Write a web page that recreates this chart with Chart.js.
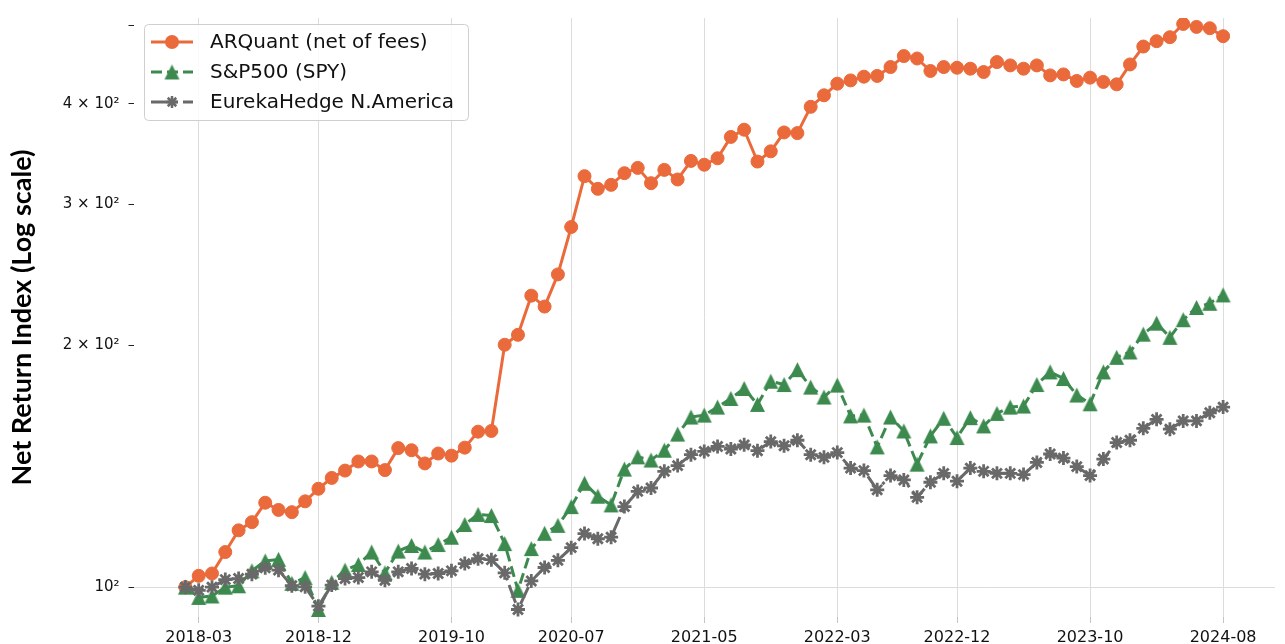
<!DOCTYPE html>
<html>
<head>
<meta charset="utf-8">
<script src="https://cdn.jsdelivr.net/npm/chart.js"></script>
<style>
  html, body { margin: 0; padding: 0; background: #fff; }
  #wrap { width: 1285px; height: 644px; }
</style>
</head>
<body>
<div id="wrap"><canvas id="chart" width="1285" height="644"></canvas></div>
<script>
// Dados (mensais, base 100)
const months = [
  '2018-02','2018-03','2018-04','2018-05','2018-06','2018-07','2018-08','2018-09','2018-10','2018-11',
  '2018-12','2019-01','2019-02','2019-03','2019-04','2019-05','2019-06','2019-07','2019-08','2019-09',
  '2019-10','2019-11','2019-12','2020-01','2020-02','2020-03','2020-04','2020-05','2020-06','2020-07',
  '2020-08','2020-09','2020-10','2020-11','2020-12','2021-01','2021-02','2021-03','2021-04','2021-05',
  '2021-06','2021-07','2021-08','2021-09','2021-10','2021-11','2021-12','2022-01','2022-02','2022-03',
  '2022-04','2022-05','2022-06','2022-07','2022-08','2022-09','2022-10','2022-11','2022-12','2023-01',
  '2023-02','2023-03','2023-04','2023-05','2023-06','2023-07','2023-08','2023-09','2023-10','2023-11',
  '2023-12','2024-01','2024-02','2024-03','2024-04','2024-05','2024-06','2024-07','2024-08'
];

const arquant = [
  100, 103.3, 104.0, 110.6, 117.7, 120.5, 127.4, 124.8, 124.0, 127.9,
  132.6, 136.8, 139.7, 143.4, 143.4, 139.9, 149.0, 148.1, 142.6, 146.7,
  145.8, 149.2, 156.2, 156.5, 200.4, 206.2, 230.7, 223.6, 245.2, 280.9,
  325.0, 313.4, 317.0, 327.8, 332.8, 318.5, 330.9, 321.9, 339.5, 335.8,
  342.1, 363.7, 371.3, 338.9, 349.0, 368.4, 367.7, 396.5, 409.8, 423.7,
  427.7, 432.3, 433.2, 444.4, 458.6, 455.4, 439.4, 444.4, 443.5, 442.3,
  438.1, 450.8, 446.5, 442.3, 446.5, 433.9, 435.1, 427.0, 431.1, 425.8,
  422.9, 447.7, 471.3, 478.6, 484.1, 502.8, 498.6, 496.7, 485.5
];

const spy = [
  100, 97.1, 97.5, 100.0, 100.4, 104.8, 107.8, 108.3, 101.1, 102.8,
  93.8, 101.4, 105.0, 106.7, 110.6, 104.2, 110.9, 112.7, 110.6, 113.0,
  115.4, 119.7, 123.2, 122.8, 113.3, 99.1, 111.7, 116.7, 119.4, 126.0,
  134.7, 129.8, 126.6, 140.3, 145.3, 144.0, 148.1, 155.1, 162.9, 163.8,
  167.6, 171.8, 176.8, 168.9, 180.5, 178.8, 186.6, 177.5, 172.5, 178.5,
  163.4, 163.8, 149.5, 162.9, 156.5, 142.3, 154.3, 162.3, 153.6, 162.6,
  158.8, 164.6, 167.6, 168.1, 178.8, 185.4, 181.9, 173.5, 169.2, 185.4,
  193.3, 196.3, 206.6, 213.2, 204.7, 215.3, 223.0, 225.7, 231.2
];

const eureka = [
  100, 99.1, 100.0, 102.2, 102.5, 103.8, 105.7, 105.0, 100.4, 100.1,
  94.7, 100.6, 102.5, 102.8, 104.5, 102.0, 104.5, 105.5, 103.8, 104.0,
  104.8, 107.0, 108.5, 108.2, 104.2, 93.8, 101.8, 105.8, 108.0, 112.0,
  116.6, 114.9, 115.4, 126.0, 131.6, 132.9, 139.4, 141.7, 146.2, 147.6,
  149.7, 148.6, 150.4, 147.9, 151.8, 150.0, 152.4, 146.2, 145.1, 147.1,
  140.7, 139.7, 132.2, 137.7, 136.0, 129.4, 135.1, 138.6, 135.5, 140.7,
  139.4, 138.6, 138.6, 138.1, 143.0, 146.5, 144.8, 141.3, 137.7, 144.4,
  151.4, 152.4, 157.7, 161.8, 157.3, 161.1, 161.1, 164.9, 167.6
];

const seriesNames = ['ARQuant (net of fees)', 'S&P500 (SPY)', 'EurekaHedge N.America'];

// eixos
const xTickLabels = ['2018-03','2018-12','2019-10','2020-07','2021-05','2022-03','2022-12','2023-10','2024-08'];
const yTickValues = [100, 200, 300, 400, 500];
const yTickLabels = ['10²', '2 × 10²', '3 × 10²', '4 × 10²', ''];

// cores
const ORANGE = '#ea6a3b';
const GREEN = '#3d8a4f';
const GREY = '#696969';

// marcador triangulo (centrado na caixa, como no matplotlib)
function triangleMarker(size, color) {
  const c = document.createElement('canvas');
  c.width = size + 2;
  c.height = size + 2;
  const g = c.getContext('2d');
  g.fillStyle = color;
  g.beginPath();
  g.moveTo((size + 2) / 2, 1);
  g.lineTo(1, size + 1);
  g.lineTo(size + 1, size + 1);
  g.closePath();
  g.fill();
  return c;
}
const triMark = triangleMarker(15, GREEN);

const toPoints = arr => arr.map((v, i) => ({ x: i, y: v }));

// legenda desenhada dentro do grafico
const legendBox = {
  id: 'legendBox',
  afterDraw(chart) {
    const ctx = chart.ctx;
    const order = [0, 1, 2];
    ctx.save();
    ctx.beginPath();
    ctx.roundRect(144.5, 24.5, 324, 96, 4);
    ctx.fillStyle = 'rgba(255,255,255,0.85)';
    ctx.fill();
    ctx.strokeStyle = '#cfcfcf';
    ctx.lineWidth = 1;
    ctx.stroke();

    order.forEach((di, row) => {
      const ds = chart.data.datasets[di];
      const y = 42 + row * 30;
      ctx.save();
      ctx.strokeStyle = ds.borderColor;
      ctx.lineWidth = ds.borderWidth;
      ctx.setLineDash(ds.borderDash || []);
      ctx.beginPath();
      ctx.moveTo(151, y);
      ctx.lineTo(193, y);
      ctx.stroke();
      ctx.restore();

      const mx = 172;
      if (ds.pointStyle === 'circle') {
        ctx.fillStyle = ds.borderColor;
        ctx.beginPath();
        ctx.arc(mx, y, 7, 0, Math.PI * 2);
        ctx.fill();
      } else if (ds.pointStyle === 'star') {
        ctx.strokeStyle = ds.borderColor;
        ctx.lineWidth = 2.5;
        ctx.beginPath();
        for (let k = 0; k < 4; k++) {
          const a = k * Math.PI / 4;
          ctx.moveTo(mx - Math.cos(a) * 6, y - Math.sin(a) * 6);
          ctx.lineTo(mx + Math.cos(a) * 6, y + Math.sin(a) * 6);
        }
        ctx.stroke();
      } else {
        const img = ds.pointStyle;
        ctx.drawImage(img, mx - img.width / 2, y - img.height / 2);
      }

      ctx.fillStyle = '#111';
      ctx.font = '20px "DejaVu Sans"';
      ctx.textBaseline = 'middle';
      ctx.textAlign = 'left';
      ctx.fillText(ds.label, 210, y + 1);
    });
    ctx.restore();
  }
};

const ctx = document.getElementById('chart').getContext('2d');
const myChart = new Chart(ctx, {
  type: 'line',
  data: {
    datasets: [
      {
        label: seriesNames[0],
        data: toPoints(arquant),
        borderColor: ORANGE,
        backgroundColor: ORANGE,
        borderWidth: 3,
        pointStyle: 'circle',
        pointRadius: 6.5,
        pointBorderWidth: 1,
        pointBorderColor: ORANGE,
        pointBackgroundColor: ORANGE,
        order: 3
      },
      {
        label: seriesNames[1],
        data: toPoints(spy),
        borderColor: GREEN,
        backgroundColor: GREEN,
        borderWidth: 3,
        borderDash: [11, 5],
        pointStyle: triMark,
        pointRadius: 7,
        order: 2
      },
      {
        label: seriesNames[2],
        data: toPoints(eureka),
        borderColor: GREY,
        backgroundColor: GREY,
        borderWidth: 3,
        borderDash: [19, 5, 3, 5],
        pointStyle: 'star',
        pointRadius: 7,
        pointBorderWidth: 2.8,
        pointBorderColor: GREY,
        order: 1
      }
    ]
  },
  options: {
    responsive: false,
    animation: false,
    devicePixelRatio: 1,
    layout: { padding: { top: 15, right: 1, left: 0, bottom: 0 } },
    elements: { line: { tension: 0, borderJoinStyle: 'round' } },
    plugins: {
      legend: { display: false },
      tooltip: { enabled: false }
    },
    scales: {
      x: {
        type: 'linear',
        min: -3.9,
        max: 81.9,
        afterBuildTicks: scale => {
          scale.ticks = xTickLabels.map(l => ({ value: months.indexOf(l) }));
        },
        afterFit: scale => { scale.height = 27; },
        ticks: {
          autoSkip: false,
          maxRotation: 0,
          padding: 5,
          color: '#111',
          font: { family: 'DejaVu Sans', size: 16 },
          callback: v => months[v]
        },
        grid: {
          color: '#dcdcdc',
          lineWidth: 1,
          tickColor: '#c4c4c4',
          tickLength: 6
        },
        border: { display: false }
      },
      y: {
        type: 'logarithmic',
        min: 91.8,
        max: 511.5,
        afterBuildTicks: scale => {
          scale.ticks = yTickValues.map(v => ({ value: v }));
        },
        afterFit: scale => { scale.width = 133.5; },
        ticks: {
          padding: 9,
          color: '#111',
          font: { family: 'DejaVu Sans', size: 15 },
          callback: v => yTickLabels[yTickValues.indexOf(v)]
        },
        grid: {
          color: c => (c.tick && c.tick.value === 100) ? '#dcdcdc' : 'rgba(0,0,0,0)',
          tickColor: '#222',
          tickLength: 5
        },
        border: { display: false },
        title: {
          display: true,
          text: 'Net Return Index (Log scale)',
          color: '#000',
          font: { family: 'Lato', size: 27, weight: 'bold' },
          padding: { top: 6, bottom: 0 }
        }
      }
    }
  },
  plugins: [legendBox]
});
</script>
</body>
</html>
